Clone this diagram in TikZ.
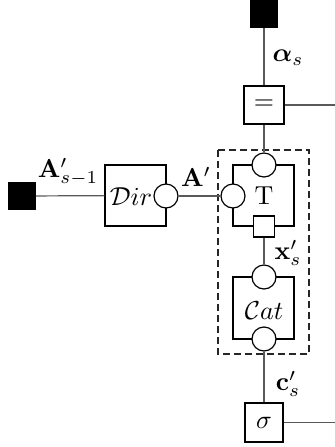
\documentclass[tikz,border=0pt]{standalone}
\usepackage{amsmath,amssymb,bm}
\begin{document}
\begin{tikzpicture}[x=0.5pt,y=-0.5pt,
  conn/.style={draw=black!65,line width=0.6pt},
  blk/.style={fill=black,draw=black,minimum size=13.5pt,inner sep=0pt},
  fbox/.style={draw=black,fill=white,line width=0.6pt,inner sep=0pt},
  circ/.style={circle,draw=black,fill=white,line width=0.6pt,minimum size=12pt,inner sep=0pt},
  grp/.style={draw=black!85,line width=0.6pt,dash pattern=on 3.5pt off 2pt},
  lbl/.style={inner sep=0pt,scale=1.3}]
\useasboundingbox (0,0) rectangle (335,447);
% dashed group
\draw[grp] (218,150) rectangle (309,354);
% nodes
\node[blk] (top) at (264,14) {};
\node[fbox,minimum width=20pt,minimum height=19pt] (eq) at (264,105) {};
\node[lbl] (eqt) at (264,105) {$=$};
\node[blk] (left) at (22,196) {};
\node[fbox,minimum width=30.5pt,minimum height=30.5pt] (dir) at (135.5,195.5) {};
\node[lbl] (dirt) at (131,197) {$\mathcal{D}ir$};
\node[circ] (dirc) at (166,196) {};
\node[fbox,minimum width=30.5pt,minimum height=30.5pt] (tbox) at (263.5,195.5) {};
\node[lbl] (tl) at (264,196) {T};
\node[circ] (ttop) at (264,165) {};
\node[circ] (tleft) at (233,196) {};
\node[fbox,minimum size=10.5pt] (tsq) at (264,226.5) {};
\node[fbox,minimum width=30.5pt,minimum height=31pt] (cat) at (263.5,308) {};
\node[lbl] (catt) at (264,311) {$\mathcal{C}at$};
\node[circ] (ctop) at (264,277) {};
\node[circ] (cbot) at (264,339) {};
\node[fbox,minimum width=19pt,minimum height=19.5pt] (sig) at (264,422.5) {};
\node[lbl] (sigt) at (264,422.5) {$\sigma$};
\coordinate (eqr) at (335,105);
\coordinate (sigr) at (335,422.5);
% connectors
\draw[conn] (top) -- (eq);
\draw[conn] (eq.east) -- (eqr);
\draw[conn] (eq) -- (ttop);
\draw[conn] (left) -- (dir);
\draw[conn] (dirc) -- (tleft);
\draw[conn] (tsq) -- (ctop);
\draw[conn] (cbot) -- (sig);
\draw[conn] (sig.east) -- (sigr);
% labels
\node[lbl] (la) at (288,58) {$\bm{\alpha}_s$};
\node[lbl] (lA1) at (68,172) {$\mathbf{A}'_{s-1}$};
\node[lbl] (lA) at (196,177) {$\mathbf{A}'$};
\node[lbl] (lx) at (288,253) {$\mathbf{x}'_s$};
\node[lbl] (lc) at (288,384) {$\mathbf{c}'_s$};
\end{tikzpicture}
\end{document}
